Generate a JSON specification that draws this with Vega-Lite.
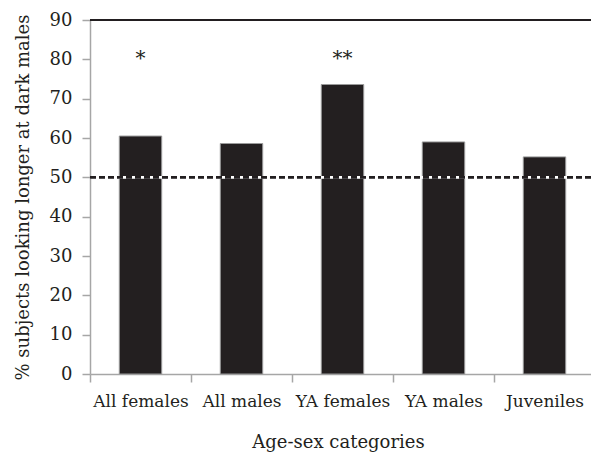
{
  "$schema": "https://vega.github.io/schema/vega-lite/v6.json",
  "autosize": "none",
  "width": 501,
  "height": 354,
  "padding": {"left": 90, "top": 20, "right": 0, "bottom": 80},
  "background": "white",
  "config": {
    "font": "DejaVu Serif",
    "text": {"font": "DejaVu Serif"},
    "view": {"stroke": null},
    "axis": {"grid": false, "labelFont": "DejaVu Serif", "titleFont": "DejaVu Serif", "labelColor": "#231f20", "titleColor": "#231f20", "titleFontWeight": "normal", "domainColor": "#a6a6a6", "tickColor": "#a6a6a6", "domainWidth": 1.5, "tickWidth": 1.5, "labelOverlap": false, "labelFontSize": 17, "titleFontSize": 18, "tickSize": 8},
    "axisY": {"values": [0, 10, 20, 30, 40, 50, 60, 70, 80, 90], "labelFontSize": 18, "labelFlush": false, "labelPadding": 10, "titleAngle": -90, "titleX": -62, "titleY": 177, "titleAlign": "center", "titleBaseline": "alphabetic"},
    "axisX": {"labelAngle": 0, "tickBand": "extent", "labelPadding": 24, "labelBaseline": "alphabetic", "titleX": 248, "titleY": 73, "titleBaseline": "alphabetic"}
  },
  "data": {
    "values": [
      {"cat": "All females", "pct": 60.5, "sig": "*"},
      {"cat": "All males", "pct": 58.6, "sig": ""},
      {"cat": "YA females", "pct": 73.6, "sig": "**"},
      {"cat": "YA males", "pct": 59.0, "sig": ""},
      {"cat": "Juveniles", "pct": 55.2, "sig": ""}
    ]
  },
  "layer": [
    {
      "mark": {"type": "bar", "width": {"band": 0.42}, "color": "#231f20", "stroke": "#9a9a9a", "strokeWidth": 1},
      "encoding": {
        "x": {
          "field": "cat", "type": "nominal", "sort": null,
          "scale": {"range": [0, 505], "paddingInner": 0, "paddingOuter": 0},
          "axis": {"title": "Age-sex categories"}
        },
        "y": {
          "field": "pct", "type": "quantitative",
          "scale": {"domain": [0, 90], "nice": false, "zero": true},
          "axis": {"title": "% subjects looking longer at dark males"}
        }
      }
    },
    {
      "mark": {"type": "rule", "color": "white", "strokeWidth": 2},
      "encoding": {"y": {"datum": 50}}
    },
    {
      "mark": {"type": "rule", "color": "#231f20", "strokeWidth": 2, "strokeDash": [6, 3]},
      "encoding": {"y": {"datum": 50}}
    },
    {
      "mark": {"type": "rule", "color": "#231f20", "strokeWidth": 1.5},
      "encoding": {"y": {"datum": 90}}
    },
    {
      "mark": {"type": "text", "fontSize": 20, "color": "#231f20", "baseline": "alphabetic", "align": "center"},
      "encoding": {
        "x": {"field": "cat", "type": "nominal", "sort": null},
        "y": {"datum": 78.5},
        "text": {"field": "sig"}
      }
    }
  ]
}
